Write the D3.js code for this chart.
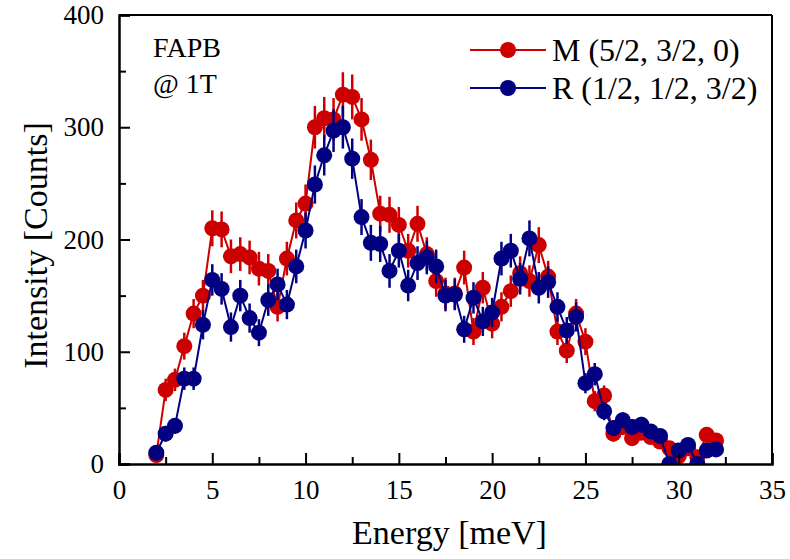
<!DOCTYPE html>
<html>
<head>
<meta charset="utf-8">
<script src="https://cdn.jsdelivr.net/npm/d3@7"></script>
<style>
  html, body { margin: 0; padding: 0; background: #fff; }
  svg { display: block; }
  svg text { font-family: "Liberation Serif", "Times New Roman", Times, serif !important; fill: #000; }
</style>
</head>
<body>
<div id="chart"></div>
<script>
// ---- data ----
const energy = d3.range(61).map(i => 2 + i * 0.5); // measured energies, 2.0 .. 32.0 meV in 0.5 steps
const seriesNames = ["M (5/2, 3/2, 0)", "R (1/2, 1/2, 3/2)"];
const countsM = [8, 66, 75, 105, 134, 150, 210, 209, 185, 187, 184, 174, 172, 140, 183, 217, 232,
  300, 308, 307, 329, 327, 307, 271, 223, 222, 213, 190, 214, 187, 163, 152, 152, 175, 118, 157,
  125, 140, 154, 170, 163, 195, 167, 118, 101, 134, 109, 56, 61, 27, 33, 23, 28, 24, 20, 14, 7, 14, 6, 26, 21];
const errM = [4, 10, 10, 12, 13, 14, 16, 16, 15, 15, 15, 15, 15, 13, 15, 16, 17,
  19, 19, 19, 20, 20, 19, 18, 16, 16, 16, 15, 16, 15, 14, 14, 14, 15, 12, 14,
  13, 13, 14, 15, 14, 16, 14, 12, 11, 13, 12, 9, 9, 7, 7, 6, 7, 6, 6, 5, 4, 5, 4, 7, 6];
const countsR = [10, 27, 34, 76, 76, 124, 164, 156, 122, 150, 130, 117, 146, 160, 142, 176, 208,
  249, 275, 297, 300, 272, 220, 197, 196, 172, 190, 159, 179, 184, 176, 150, 151, 120, 148, 127,
  135, 183, 190, 165, 201, 157, 162, 140, 119, 131, 72, 80, 47, 32, 39, 33, 35, 29, 25, 0, 12, 17, 0, 12, 13];
const errR = [4, 7, 7, 10, 10, 13, 14, 14, 13, 14, 13, 12, 14, 14, 13, 15, 16,
  17, 18, 19, 19, 18, 16, 16, 16, 15, 15, 14, 15, 15, 15, 14, 14, 12, 14, 13,
  13, 15, 15, 14, 16, 14, 14, 13, 12, 13, 9, 10, 8, 7, 7, 7, 7, 6, 6, 3, 5, 5, 3, 5, 5];
const xTicks = [0, 5, 10, 15, 20, 25, 30, 35];
const yTicks = [0, 100, 200, 300, 400];
const annotation = ["FAPB", "@ 1T"];
const colors = ["#cc0000", "#000080"];

// ---- layout ----
const W = 790, H = 559;
const m = { left: 119, right: 18, top: 15, bottom: 95 };
const pw = W - m.left - m.right, ph = H - m.top - m.bottom;
const FONT = '"Liberation Serif", "Times New Roman", Times, serif';

const svg = d3.select("#chart").append("svg").attr("width", W).attr("height", H)
  .attr("font-family", FONT);
const g = svg.append("g").attr("transform", `translate(${m.left},${m.top})`);

const x = d3.scaleLinear().domain([0, 35]).range([0, pw]);
const y = d3.scaleLinear().domain([0, 400]).range([ph, 0]);

svg.append("defs").append("clipPath").attr("id", "clip")
  .append("rect").attr("x", 0).attr("y", -5).attr("width", pw).attr("height", ph + 5);

const series = [
  { name: seriesNames[0], c: countsM, e: errM, color: colors[0] },
  { name: seriesNames[1], c: countsR, e: errR, color: colors[1] }
];

const dataG = g.append("g").attr("clip-path", "url(#clip)");
series.forEach(s => {
  const pts = energy.map((E, i) => ({ E, v: s.c[i], err: s.e[i] }));
  const sg = dataG.append("g");
  sg.append("path").datum(pts)
    .attr("fill", "none").attr("stroke", s.color).attr("stroke-width", 2)
    .attr("d", d3.line().x(d => x(d.E)).y(d => y(d.v)));
  sg.selectAll("line.err").data(pts).enter().append("line")
    .attr("x1", d => x(d.E)).attr("x2", d => x(d.E))
    .attr("y1", d => y(d.v - d.err)).attr("y2", d => y(d.v + d.err))
    .attr("stroke", s.color).attr("stroke-width", 2.5);
  sg.selectAll("circle").data(pts).enter().append("circle")
    .attr("cx", d => x(d.E)).attr("cy", d => y(d.v)).attr("r", 8)
    .attr("fill", s.color);
});

// ---- axes ----
const xAxis = d3.axisBottom(x).tickValues(xTicks).tickSize(-11).tickPadding(16).tickFormat(d3.format("d"));
const yAxis = d3.axisLeft(y).tickValues(yTicks).tickSize(-11).tickPadding(15).tickFormat(d3.format("d"));

const gx = g.append("g").attr("transform", `translate(0,${ph})`).call(xAxis);
const gy = g.append("g").call(yAxis);
[gx, gy].forEach(a => {
  a.attr("font-family", FONT).attr("font-size", 27);
  a.select(".domain").attr("stroke-width", 2.5).attr("stroke", "#000");
  a.selectAll(".tick line").attr("stroke-width", 2).attr("stroke", "#000");
  a.selectAll(".tick text").attr("fill", "#000");
});
g.append("g").attr("transform", `translate(0,${ph})`)
  .call(d3.axisBottom(x).tickValues(d3.range(2.5, 35, 5)).tickSize(-7).tickFormat(""))
  .call(a => { a.select(".domain").remove(); a.selectAll("line").attr("stroke-width", 2); });
g.append("g")
  .call(d3.axisLeft(y).tickValues(d3.range(50, 400, 100)).tickSize(-7).tickFormat(""))
  .call(a => { a.select(".domain").remove(); a.selectAll("line").attr("stroke-width", 2); });

// top and right frame
g.append("line").attr("x1", 0).attr("x2", pw).attr("y1", 0).attr("y2", 0).attr("stroke", "#000").attr("stroke-width", 2);
g.append("line").attr("x1", pw).attr("x2", pw).attr("y1", 0).attr("y2", ph).attr("stroke", "#000").attr("stroke-width", 2);

// axis titles
svg.append("text").attr("x", m.left + pw / 2 + 4).attr("y", 544).attr("text-anchor", "middle")
  .attr("font-size", 34).text("Energy [meV]");
svg.append("text").attr("transform", `translate(47,${m.top + ph / 2 + 6}) rotate(-90)`).attr("text-anchor", "middle")
  .attr("font-size", 34).text("Intensity [Counts]");

// annotation
annotation.forEach((t, i) => {
  svg.append("text").attr("x", 153).attr("y", 57 + i * 36).attr("font-size", 28).text(t);
});

// legend
series.forEach((s, i) => {
  const ly = 50 + i * 38;
  const lg = svg.append("g");
  lg.append("line").attr("x1", 470).attr("x2", 546).attr("y1", ly).attr("y2", ly)
    .attr("stroke", s.color).attr("stroke-width", 2);
  lg.append("circle").attr("cx", 508).attr("cy", ly).attr("r", 8).attr("fill", s.color);
  lg.append("text").attr("x", 552).attr("y", ly + 11).attr("font-size", 32).text(s.name);
});
</script>
</body>
</html>
